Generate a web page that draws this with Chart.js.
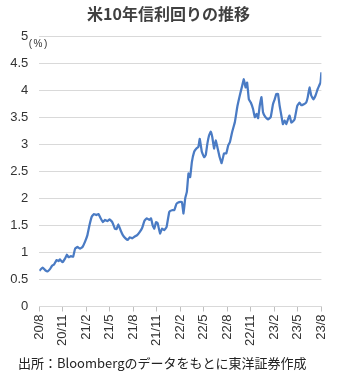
<!DOCTYPE html>
<html>
<head>
<meta charset="utf-8">
<script src="https://cdn.jsdelivr.net/npm/chart.js@4"></script>
<style>
html,body{margin:0;padding:0;background:#fff;}
#wrap{width:340px;height:380px;}
</style>
</head>
<body>
<div id="wrap"><canvas id="c" width="340" height="380"></canvas></div>
<script>
const titleText = '米10年信利回りの推移';
const footerText = '出所：Bloombergのデータをもとに東洋証券作成';
const unitText = '(%)';
const xLabels = ['20/8','20/11','21/2','21/5','21/8','21/11','22/2','22/5','22/8','22/11','23/2','23/5','23/8'];
const yLabels = ['0','0.5','1','1.5','2','2.5','3','3.5','4','4.5','5'];
// months since Aug 2020
const months = [0.00,0.43,0.76,1.07,1.36,1.61,1.90,2.21,2.46,2.63,2.97,3.30,3.52,3.73,4.02,4.31,4.57,4.87,5.20,5.51,5.84,6.14,6.43,6.69,6.98,7.28,7.54,7.83,8.12,8.38,8.68,8.97,9.31,9.64,9.86,10.08,10.37,10.66,11.00,11.29,11.55,11.85,12.14,12.49,12.78,13.12,13.41,13.71,14.05,14.26,14.47,14.68,14.90,15.10,15.41,15.66,15.95,16.24,16.59,16.93,17.22,17.51,17.85,18.20,18.40,18.62,18.83,19.04,19.25,19.47,19.76,20.05,20.30,20.48,20.74,21.03,21.24,21.45,21.66,21.88,22.08,22.30,22.51,22.72,23.02,23.27,23.57,23.86,24.11,24.33,24.62,24.96,25.28,25.60,25.89,26.10,26.32,26.52,26.74,26.99,27.28,27.50,27.72,27.92,28.13,28.35,28.55,28.86,29.19,29.53,29.82,30.04,30.25,30.46,30.67,30.89,31.09,31.31,31.52,31.73,31.94,32.16,32.36,32.58,32.92,33.21,33.43,33.76,34.06,34.26,34.48,34.70,34.99,35.25,35.53,35.88,36.00];
const yields = [0.66,0.72,0.67,0.65,0.69,0.75,0.78,0.86,0.84,0.87,0.82,0.89,0.96,0.91,0.93,0.92,1.07,1.10,1.07,1.10,1.20,1.32,1.52,1.66,1.71,1.69,1.71,1.63,1.56,1.60,1.58,1.61,1.56,1.44,1.43,1.52,1.41,1.32,1.26,1.23,1.28,1.26,1.29,1.32,1.37,1.45,1.58,1.63,1.60,1.63,1.50,1.44,1.56,1.54,1.35,1.44,1.41,1.47,1.75,1.78,1.78,1.90,1.93,1.93,1.72,2.00,2.12,2.46,2.39,2.67,2.86,2.92,2.95,3.10,2.86,2.76,2.80,3.01,3.16,3.23,3.13,2.92,3.07,2.95,2.76,2.65,2.83,2.83,2.98,3.04,3.23,3.41,3.70,3.91,4.08,4.20,4.05,4.14,3.83,3.77,3.65,3.50,3.56,3.48,3.71,3.87,3.59,3.50,3.46,3.50,3.74,3.83,3.93,3.93,3.71,3.53,3.37,3.44,3.37,3.46,3.53,3.40,3.42,3.46,3.71,3.77,3.72,3.74,3.77,3.87,4.05,3.90,3.83,3.90,4.02,4.14,4.33];

const points = months.map((m, i) => ({x: m, y: yields[i]}));
const textColor = '#333333';
const tickFont = {family: '"Liberation Sans", Arial, sans-serif', size: 13};

const textPlugin = {
  id: 'texts',
  afterDraw(chart) {
    const ctx = chart.ctx;
    const a = chart.chartArea;
    ctx.save();
    ctx.fillStyle = '#404040';
    ctx.font = 'bold 16px "Noto Sans CJK JP", sans-serif';
    ctx.textAlign = 'center';
    ctx.textBaseline = 'middle';
    ctx.fillText(titleText, 168.5, 14);
    ctx.fillStyle = textColor;
    ctx.font = '10px "Liberation Sans", Arial, sans-serif';
    if ('letterSpacing' in ctx) ctx.letterSpacing = '1.5px';
    ctx.fillText(unitText, a.left - 0.5, a.top + 8);
    if ('letterSpacing' in ctx) ctx.letterSpacing = '0px';
    ctx.font = '13px "Noto Sans CJK JP", sans-serif';
    ctx.textAlign = 'left';
    ctx.fillStyle = '#222222';
    ctx.fillText(footerText, 18, 363);
    ctx.restore();
  }
};

new Chart(document.getElementById('c'), {
  type: 'line',
  data: {
    datasets: [{
      data: points,
      borderColor: '#4a7bc4',
      borderWidth: 2.25,
      pointRadius: 0,
      tension: 0.1,
      fill: false
    }]
  },
  options: {
    responsive: false,
    animation: false,
    layout: {padding: {left: 0, top: 36, right: 17, bottom: 33.5}},
    plugins: {legend: {display: false}, tooltip: {enabled: false}, title: {display: false}},
    scales: {
      x: {
        type: 'linear',
        min: 0, max: 36,
        afterFit(s) { s.height = 40; },
        grid: {drawOnChartArea: false, drawTicks: true, tickLength: 5, color: '#bfbfbf'},
        border: {display: true, color: '#d9d9d9', width: 1},
        ticks: {
          stepSize: 3,
          autoSkip: false,
          minRotation: 90, maxRotation: 90,
          padding: 3,
          color: textColor,
          font: tickFont,
          callback: (v) => xLabels[Math.round(v / 3)]
        }
      },
      y: {
        min: 0, max: 5,
        afterFit(s) { s.width = 39.3; },
        grid: {color: '#d9d9d9', drawTicks: false, lineWidth: 1},
        border: {display: false},
        ticks: {
          stepSize: 0.5,
          padding: 11,
          color: textColor,
          font: tickFont,
          callback: (v) => yLabels[Math.round(v * 2)]
        }
      }
    }
  },
  plugins: [textPlugin]
});
</script>
</body>
</html>
